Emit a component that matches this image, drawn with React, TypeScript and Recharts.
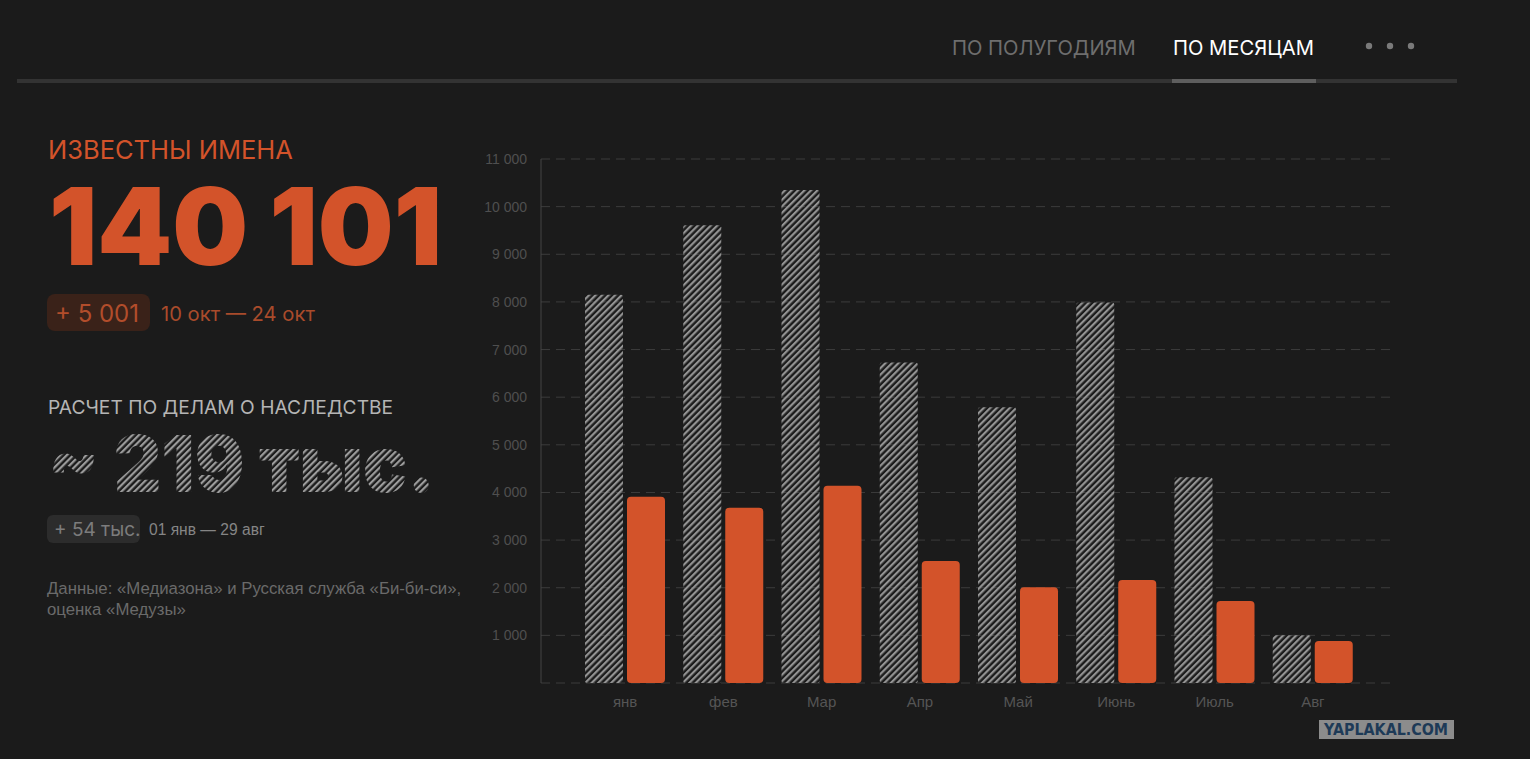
import { Bar, BarChart, CartesianGrid, XAxis, YAxis } from "recharts"

const months = ["янв", "фев", "Мар", "Апр", "Май", "Июнь", "Июль", "Авг"]
const estimateValues = [8150, 9610, 10350, 6730, 5790, 7990, 4320, 1000]
const knownValues = [3910, 3680, 4140, 2560, 2010, 2160, 1720, 880]
const yTicks = [0, 1000, 2000, 3000, 4000, 5000, 6000, 7000, 8000, 9000, 10000, 11000]

const data = months.map((m, i) => ({ month: m, estimate: estimateValues[i], known: knownValues[i] }))

const BG = "#1b1b1b"
const ORANGE = "#d3532a"
const HATCH = "#939393"

const fmt = (v: number) => (v === 0 ? "" : String(v).replace(/\B(?=(\d{3})+(?!\d))/g, " "))

function Panel() {
  return (
    <svg width={1530} height={759} style={{ position: "absolute", left: 0, top: 0 }}>
      <defs>
        <pattern id="hatchText" width={4.6} height={10} patternUnits="userSpaceOnUse" patternTransform="rotate(45)">
          <rect width={2.2} height={10} fill="#9c9c9c" />
        </pattern>
      </defs>
      {/* tabs */}
      <text x={952} y={55} fontFamily="Inter" fontSize={20.2} fill="#6e6e6e">ПО ПОЛУГОДИЯМ</text>
      <text x={1173} y={55} fontFamily="Inter" fontSize={20.2} fill="#ffffff">ПО МЕСЯЦАМ</text>
      <circle cx={1369} cy={46} r={3.2} fill="#7a7a7a" />
      <circle cx={1390} cy={46} r={3.2} fill="#7a7a7a" />
      <circle cx={1411} cy={46} r={3.2} fill="#7a7a7a" />
      <rect x={17} y={79} width={1440} height={4} fill="#333333" />
      <rect x={1172} y={79} width={144} height={4} fill="#5e5e5e" />

      {/* known names */}
      <text x={48} y={159} fontFamily="Inter" fontSize={25.5} fill={ORANGE}>ИЗВЕСТНЫ ИМЕНА</text>
      <text x={49} y={265} fontFamily="Inter" fontWeight={900} fontSize={107} fill={ORANGE}
        textLength={393} lengthAdjust="spacingAndGlyphs">140 101</text>
      <rect x={47} y={294} width={103} height={37} rx={8} fill="#3a2219" />
      <text x={55} y={322} fontFamily="Inter" fontSize={24} fill="#b24d2b">+ 5 001</text>
      <text x={161} y={321} fontFamily="Inter" fontSize={20.2} fill="#a94b2b">10 окт — 24 окт</text>

      {/* inheritance estimate */}
      <text x={48} y={414} fontFamily="Inter" fontSize={19.2} fill="#b5b5b5">РАСЧЕТ ПО ДЕЛАМ О НАСЛЕДСТВЕ</text>
      <text x={48} y={492} fontFamily="Inter" fontWeight={900} fontSize={78} fill="url(#hatchText)"
        textLength={387} lengthAdjust="spacingAndGlyphs">~ 219 тыс.</text>
      <rect x={47} y={515} width={93} height={28} rx={6} fill="#2c2c2c" />
      <text x={54} y={536} fontFamily="Inter" fontSize={19} fill="#7c7c7c">+ 54 тыс.</text>
      <text x={149} y={535} fontFamily="Liberation Sans" fontSize={15.6} fill="#858585">01 янв — 29 авг</text>

      <text x={47} y={594} fontFamily="Liberation Sans" fontSize={16.8} fill="#6a6a6a">
        Данные: «Медиазона» и Русская служба «Би-би-си»,
      </text>
      <text x={47} y={615} fontFamily="Liberation Sans" fontSize={16.8} fill="#6a6a6a">оценка «Медузы»</text>

      {/* watermark */}
      <rect x={1319} y={720} width={135} height={19} fill="#8c8c8c" />
      <text x={1386} y={735} textAnchor="middle" fontFamily="DejaVu Sans" fontWeight={700} fontSize={15}
        fill="#1d3a57" textLength={124} lengthAdjust="spacingAndGlyphs">YAPLAKAL.COM</text>
    </svg>
  )
}

export default function App() {
  return (
    <div style={{ position: "absolute", left: 0, top: 0, width: 1530, height: 759, background: BG, overflow: "hidden" }}>
      <Panel />
      <div style={{ position: "absolute", left: 460, top: 130 }}>
        <BarChart width={960} height={600} data={data} barSize={38} barGap={4}
          margin={{ top: 29, right: 30, bottom: 17, left: 21 }}>
          <defs>
            <pattern id="hatchBar" width={4.6} height={10} patternUnits="userSpaceOnUse" patternTransform="rotate(45)">
              <rect width={2.2} height={10} fill={HATCH} />
            </pattern>
          </defs>
          <CartesianGrid vertical={false} strokeDasharray="9 6" stroke="#3c3c3c" />
          <XAxis
            dataKey="month"
            axisLine={false}
            tickLine={false}
            height={30}
            tickMargin={7}
            padding={{ left: 35, right: 28 }}
            tick={{ fill: "#555555", fontSize: 15, fontFamily: "Liberation Sans" }}
          />
          <YAxis
            domain={[0, 11000]}
            ticks={yTicks}
            interval={0}
            width={60}
            tickLine={false}
            tickMargin={8}
            axisLine={{ stroke: "#444444" }}
            tickFormatter={fmt}
            tick={{ fill: "#4f4f4f", fontSize: 14, fontFamily: "Liberation Sans" }}
          />
          <Bar dataKey="estimate" fill="url(#hatchBar)" radius={2} isAnimationActive={false} />
          <Bar dataKey="known" fill={ORANGE} radius={4} isAnimationActive={false} />
        </BarChart>
      </div>
    </div>
  )
}
